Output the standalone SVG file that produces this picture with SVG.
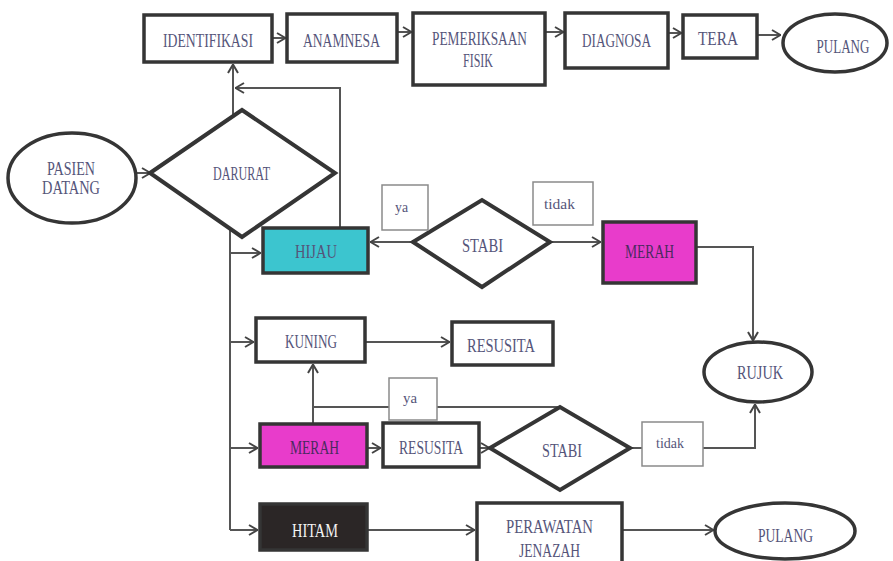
<svg xmlns="http://www.w3.org/2000/svg" width="893" height="561" viewBox="0 0 893 561">
<defs>
<style>
.bx{fill:#fff;stroke:#353535;stroke-width:3.5}
.lb{fill:#fff;stroke:#8a8a8a;stroke-width:1.5}
.el{fill:#fff;stroke:#353535;stroke-width:3.5}
.dm{fill:#fff;stroke:#353535;stroke-width:4;stroke-linejoin:miter}
.ln{fill:none;stroke:#555;stroke-width:2}
.t{font-family:"Liberation Serif","Times New Roman",serif;font-size:19px;fill:#55557a;text-anchor:middle}
.s{font-size:15px}
.w{fill:#f4f4f4}
.d{fill:#4a2a60}
</style>
<marker id="ar" viewBox="0 0 10 12" refX="10" refY="6" markerWidth="10" markerHeight="12" markerUnits="userSpaceOnUse" orient="auto">
<path d="M1,1 L9.5,6 L1,11" fill="none" stroke="#444" stroke-width="2"/>
</marker>
</defs>
<rect width="893" height="561" fill="#fff"/>
<g id="connectors" class="ln" marker-end="url(#ar)">
<path d="M272,38 H286"/>
<path d="M397,32 H412"/>
<path d="M545,32 H564"/>
<path d="M668,33 H682"/>
<path d="M757,35 H781"/>
<path d="M137,173 H151"/>
<path d="M233,116 V64"/>
<path d="M340,228 V88 H235"/>
<path d="M230,229 V530" marker-end="none"/>
<path d="M230,253 H261"/>
<path d="M230,342 H254"/>
<path d="M230,448 H258"/>
<path d="M230,530 H258"/>
<path d="M413,242 H370"/>
<path d="M550,242 H601"/>
<path d="M696,247 H753 V341"/>
<path d="M365,342 H450"/>
<path d="M367,448 H381"/>
<path d="M479,448 H490"/>
<path d="M560,407 H313 V364"/>
<path d="M313,424 V407" marker-end="none"/>
<path d="M630,448 H755 V404"/>
<path d="M367,530 H475"/>
<path d="M622,530 H714"/>
</g>
<g id="identifikasi"><rect class="bx" x="144" y="15" width="128" height="47"/><text class="t" x="208" y="47" textLength="90" lengthAdjust="spacingAndGlyphs">IDENTIFIKASI</text></g>
<g id="anamnesa"><rect class="bx" x="287" y="14" width="110" height="48"/><text class="t" x="341.5" y="47" textLength="77" lengthAdjust="spacingAndGlyphs">ANAMNESA</text></g>
<g id="pemeriksaan"><rect class="bx" x="413" y="13" width="132" height="72"/><text class="t" x="479.5" y="45" textLength="95" lengthAdjust="spacingAndGlyphs">PEMERIKSAAN</text><text class="t" x="478" y="67" textLength="30" lengthAdjust="spacingAndGlyphs">FISIK</text></g>
<g id="diagnosa"><rect class="bx" x="565" y="13" width="103" height="55"/><text class="t" x="616.5" y="47" textLength="69" lengthAdjust="spacingAndGlyphs">DIAGNOSA</text></g>
<g id="tera"><rect class="bx" x="683" y="15" width="74" height="43"/><text class="t" x="718" y="45" textLength="40" lengthAdjust="spacingAndGlyphs">TERA</text></g>
<g id="pulang1"><ellipse class="el" cx="835" cy="43" rx="52" ry="29"/><text class="t" x="843" y="53" textLength="53" lengthAdjust="spacingAndGlyphs">PULANG</text></g>
<g id="pasien"><ellipse class="el" cx="72" cy="178" rx="64" ry="45"/><text class="t" x="71" y="175" textLength="48" lengthAdjust="spacingAndGlyphs">PASIEN</text><text class="t" x="71" y="194" textLength="58" lengthAdjust="spacingAndGlyphs">DATANG</text></g>
<g id="darurat"><polygon class="dm" points="150,173 242,110 335,173 242,237"/><text class="t" x="241.5" y="180" font-size="16" textLength="57" lengthAdjust="spacingAndGlyphs">DARURAT</text></g>
<g id="hijau"><rect class="bx" x="263" y="228" width="105" height="45" fill="#3cc5cf" style="fill:#3cc5cf"/><text class="t" x="316" y="258" textLength="42" lengthAdjust="spacingAndGlyphs">HIJAU</text></g>
<g id="stabi1"><polygon class="dm" points="413,242 482,200 550,242 482,287"/><text class="t" x="482.5" y="252" textLength="41" lengthAdjust="spacingAndGlyphs">STABI</text></g>
<g id="ya1"><rect class="lb" x="382" y="185" width="46" height="45"/><text class="t s" x="401.5" y="212" textLength="13" lengthAdjust="spacingAndGlyphs">ya</text></g>
<g id="tidak1"><rect class="lb" x="533" y="182" width="60" height="43"/><text class="t s" x="559.5" y="209" textLength="31" lengthAdjust="spacingAndGlyphs">tidak</text></g>
<g id="merah1"><rect class="bx" x="603" y="222" width="93" height="61" style="fill:#e83ccb"/><text class="t d" x="649.5" y="258" textLength="49" lengthAdjust="spacingAndGlyphs">MERAH</text></g>
<g id="rujuk"><ellipse class="el" cx="758" cy="372" rx="54" ry="30"/><text class="t" x="760" y="379" textLength="46" lengthAdjust="spacingAndGlyphs">RUJUK</text></g>
<g id="kuning"><rect class="bx" x="256" y="318" width="109" height="44"/><text class="t" x="311" y="348" textLength="52" lengthAdjust="spacingAndGlyphs">KUNING</text></g>
<g id="resusita1"><rect class="bx" x="452" y="322" width="101" height="43"/><text class="t" x="501" y="352" textLength="68" lengthAdjust="spacingAndGlyphs">RESUSITA</text></g>
<g id="ya2"><rect class="lb" x="389" y="378" width="48" height="42"/><text class="t s" x="410" y="403" textLength="14" lengthAdjust="spacingAndGlyphs">ya</text></g>
<g id="merah2"><rect class="bx" x="260" y="424" width="107" height="43" style="fill:#e83ccb"/><text class="t d" x="314.5" y="454" textLength="49" lengthAdjust="spacingAndGlyphs">MERAH</text></g>
<g id="resusita2"><rect class="bx" x="383" y="423" width="96" height="44"/><text class="t" x="431" y="454" textLength="64" lengthAdjust="spacingAndGlyphs">RESUSITA</text></g>
<g id="stabi2"><polygon class="dm" points="490,448 560,407 630,448 560,490"/><text class="t" x="562" y="457" textLength="40" lengthAdjust="spacingAndGlyphs">STABI</text></g>
<g id="tidak2"><rect class="lb" x="642" y="422" width="61" height="44"/><text class="t s" x="670" y="448" textLength="28" lengthAdjust="spacingAndGlyphs">tidak</text></g>
<g id="hitam"><rect class="bx" x="260" y="504" width="107" height="46" style="fill:#2b2626"/><text class="t w" x="315" y="537" textLength="46" lengthAdjust="spacingAndGlyphs">HITAM</text></g>
<g id="perawatan"><rect class="bx" x="477" y="503" width="145" height="70"/><text class="t" x="549.5" y="533" textLength="87" lengthAdjust="spacingAndGlyphs">PERAWATAN</text><text class="t" x="549.5" y="557" textLength="61" lengthAdjust="spacingAndGlyphs">JENAZAH</text></g>
<g id="pulang2"><ellipse class="el" cx="785" cy="531" rx="70" ry="28"/><text class="t" x="785.5" y="542" textLength="55" lengthAdjust="spacingAndGlyphs">PULANG</text></g>
</svg>
